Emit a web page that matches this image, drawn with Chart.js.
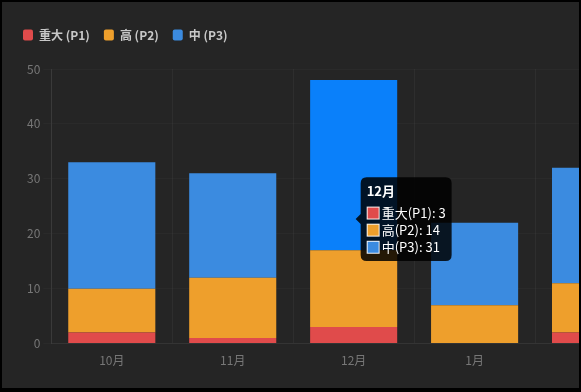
<!DOCTYPE html>
<html>
<head>
<meta charset="utf-8">
<script src="https://cdn.jsdelivr.net/npm/chart.js@4/dist/chart.umd.min.js"></script>
<style>
    html, body { margin: 0; padding: 0; background: #000; overflow: hidden; }
    .frame {
        position: absolute; left: 2px; top: 2px; width: 577px; height: 386px;
        background: #252525; overflow: hidden;
    }
    .chart-box { position: absolute; left: 0; top: 0; width: 654px; height: 386px; }
</style>
</head>
<body>
<div class="frame">
    <div class="chart-box"><canvas id="issueChart"></canvas></div>
</div>
<script>
// Monthly issue counts by priority
const months = ['10月', '11月', '12月', '1月', '2月'];
const p1Counts = [2, 1, 3, 0, 2];
const p2Counts = [8, 11, 14, 7, 9];
const p3Counts = [23, 19, 31, 15, 21];
const legendNames = ['重大 (P1)', '高 (P2)', '中 (P3)'];
const tipNames = ['重大(P1)', '高(P2)', '中(P3)'];
const yTicks = [0, 10, 20, 30, 40, 50];

const fontFamily = '"Microsoft YaHei", "Noto Sans CJK SC", sans-serif';

// place tooltip at the average of the bar tops
Chart.Tooltip.positioners.barTop = function(items) {
    if (!items.length) return false;
    let x = 0, y = 0;
    items.forEach(i => { x += i.element.x; y += i.element.y; });
    return { x: x / items.length, y: y / items.length };
};

// extra room under the legend
const legendGap = {
    id: 'legendGap',
    beforeInit(chart) {
        const fit = chart.legend.fit;
        chart.legend.fit = function() {
            fit.bind(chart.legend)();
            this.height += 18;
        };
    }
};

const ctx = document.getElementById('issueChart').getContext('2d');
const chart = new Chart(ctx, {
    type: 'bar',
    data: {
        labels: months,
        datasets: [{
            label: legendNames[0],
            data: p1Counts,
            backgroundColor: '#e04b4b',
            hoverBackgroundColor: '#e04b4b'
        }, {
            label: legendNames[1],
            data: p2Counts,
            backgroundColor: '#ee9f2c',
            hoverBackgroundColor: '#ee9f2c'
        }, {
            label: legendNames[2],
            data: p3Counts,
            backgroundColor: '#3b8be0',
            hoverBackgroundColor: '#0a80fa'
        }]
    },
    options: {
        responsive: true,
        maintainAspectRatio: false,
        animation: false,
        events: [],
        layout: { padding: { left: 7, top: 13, right: 0, bottom: 10 } },
        plugins: {
            legend: {
                position: 'top',
                align: 'start',
                labels: {
                    color: '#c8c8c8',
                    boxWidth: 10,
                    boxHeight: 11,
                    useBorderRadius: true,
                    borderRadius: 2,
                    padding: 14,
                    font: { family: fontFamily, size: 12, weight: '600' }
                }
            },
            tooltip: {
                mode: 'index',
                position: 'barTop',
                xAlign: 'left',
                yAlign: 'center',
                backgroundColor: 'rgba(0,0,0,0.85)',
                padding: 6,
                titleFont: { family: fontFamily, size: 13, weight: 'bold' },
                bodyFont: { family: fontFamily, size: 13 },
                bodySpacing: 1.5,
                titleMarginBottom: 6.5,
                cornerRadius: 6,
                callbacks: {
                    label: function(item) {
                        return tipNames[item.datasetIndex] + ': ' + item.raw;
                    }
                }
            }
        },
        scales: {
            x: {
                stacked: true,
                grid: { color: 'rgba(255,255,255,0.045)', drawTicks: false },
                border: { color: 'rgba(255,255,255,0.05)' },
                ticks: { color: '#777', padding: 10, font: { family: fontFamily, size: 12 } }
            },
            y: {
                stacked: true,
                min: 0,
                max: 50,
                afterBuildTicks: axis => { axis.ticks = yTicks.map(v => ({ value: v })); },
                afterFit: axis => { axis.width += 15; },
                grid: { color: 'rgba(255,255,255,0.025)' },
                border: { color: 'rgba(255,255,255,0.06)' },
                ticks: { color: '#777', font: { family: fontFamily, size: 12 } }
            }
        }
    },
    plugins: [legendGap]
});

// show the hovered state for 12月
const active = [0, 1, 2].map(d => ({ datasetIndex: d, index: 2 }));
chart.setActiveElements(active);
chart.tooltip.setActiveElements(active, { x: 0, y: 0 });
chart.update();
</script>
</body>
</html>
